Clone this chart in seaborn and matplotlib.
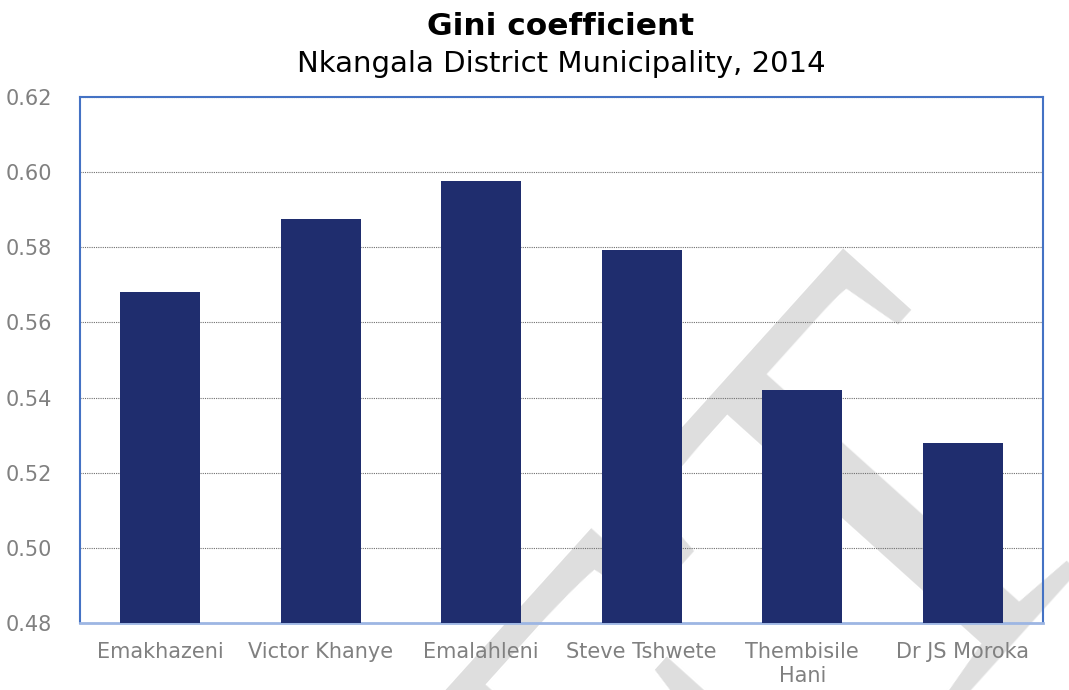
import matplotlib
matplotlib.use("Agg")
import matplotlib.pyplot as plt
from matplotlib.ticker import FixedLocator, FormatStrFormatter
import seaborn as sns
import pandas as pd

# Gini coefficient by local municipality, Nkangala District, 2014
regions = ["Emakhazeni", "Victor Khanye", "Emalahleni", "Steve Tshwete",
           "Thembisile\nHani", "Dr JS Moroka"]
gini = [0.568, 0.5875, 0.5977, 0.5793, 0.542, 0.528]
y_ticks = [0.48, 0.50, 0.52, 0.54, 0.56, 0.58, 0.60, 0.62]

title = "Gini coefficient"
subtitle = "Nkangala District Municipality, 2014"
watermark = "DRAFT"

df = pd.DataFrame({"region": regions, "gini": gini})

sns.set_theme(style="white")
plt.rcParams["font.family"] = ["DejaVu Sans"]

W, H = 1069, 690
fig = plt.figure(figsize=(W / 100, H / 100), dpi=100)
ax = fig.add_axes([80 / W, 1 - 623 / H, 963 / W, 526 / H])
ax.set_facecolor("none")

# faint diagonal watermark sitting behind the plot
fig.text(1135 / W, 1 - 488 / H, watermark, fontsize=430,
         family="Liberation Serif", color="#DEDEDE", rotation=48,
         rotation_mode="anchor", ha="right", va="baseline", zorder=-1)

sns.barplot(data=df, x="region", y="gini", color="#1F2D6E", saturation=1,
            width=0.5, ax=ax, zorder=3, edgecolor="none")

ax.set_ylim(y_ticks[0], y_ticks[-1])
ax.set_xlim(-0.5, len(regions) - 0.5)
ax.yaxis.set_major_locator(FixedLocator(y_ticks))
ax.yaxis.set_major_formatter(FormatStrFormatter("%.2f"))
ax.yaxis.grid(True, color="#6f6f6f", linestyle=(0, (1, 1)), linewidth=0.8)
ax.set_axisbelow(True)

ax.set_xlabel("")
ax.set_ylabel("")
ax.tick_params(axis="y", length=0, pad=20, labelsize=15, labelcolor="#808080")
ax.tick_params(axis="x", which="major", length=0, pad=14, labelsize=15,
               labelcolor="#808080")
ax.xaxis.set_minor_locator(FixedLocator([i - 0.5 for i in range(len(regions) + 1)]))
ax.tick_params(axis="x", which="minor", length=6, width=0.8, color="#D9D9D9",
               direction="out")

for side in ["left", "top", "right"]:
    ax.spines[side].set_color("#4472C4")
    ax.spines[side].set_linewidth(1.5)
ax.spines["bottom"].set_color("#9DB6E3")
ax.spines["bottom"].set_linewidth(2)

fig.text(561 / W, 1 - 35 / H, title, fontsize=22.5, fontweight="bold",
         ha="center", va="baseline", color="black")
fig.text(561 / W, 1 - 72 / H, subtitle, fontsize=21, ha="center",
         va="baseline", color="black")

fig.savefig("out.png", dpi=100)
